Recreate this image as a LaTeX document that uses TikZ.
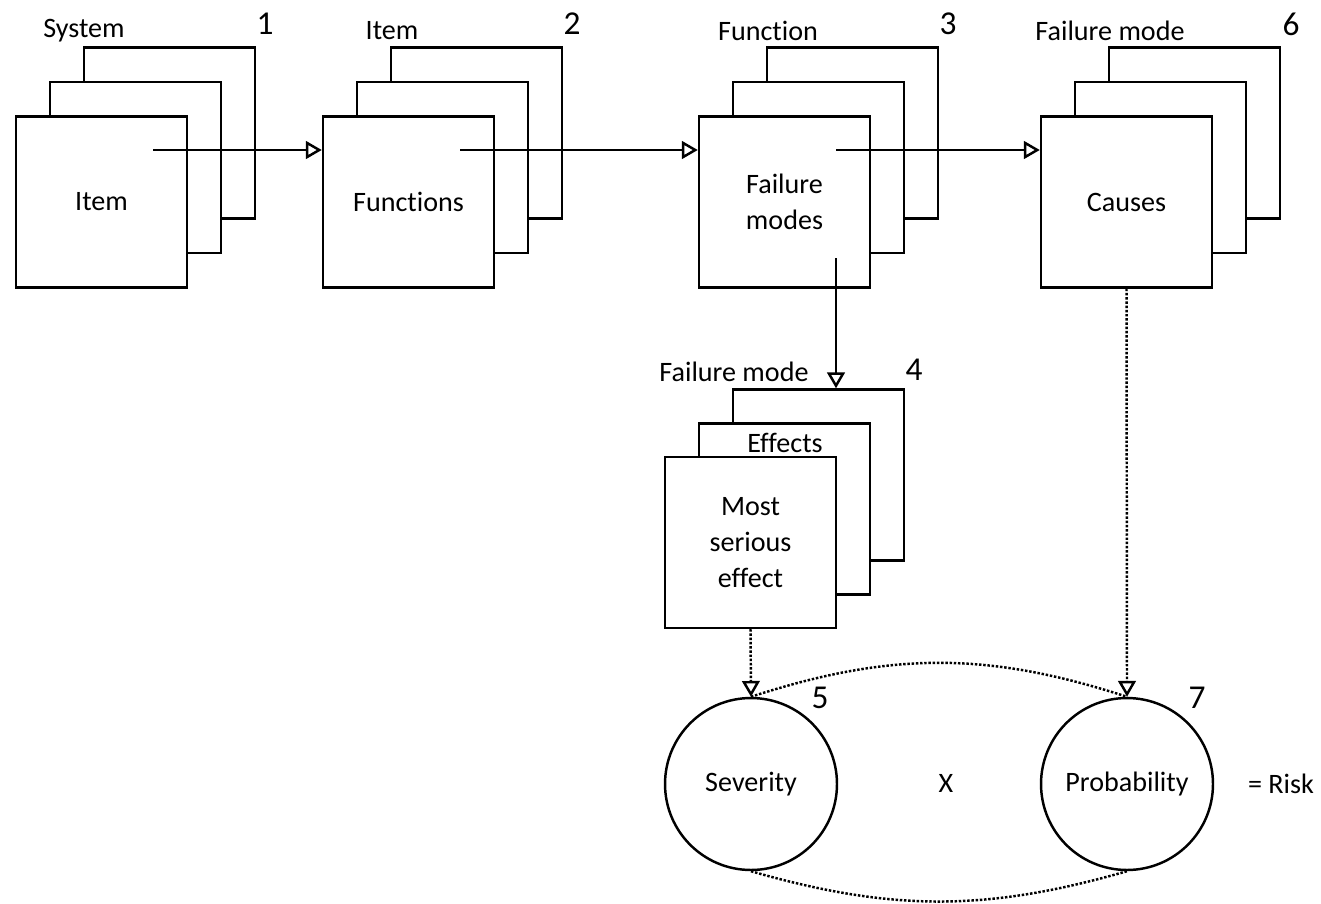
\documentclass[tikz,border=0pt]{standalone}
\usepackage{fontspec}
\setmainfont{Carlito}[Ligatures=NoCommon]
\usetikzlibrary{arrows.meta}

\begin{document}
\begin{tikzpicture}[x=0.02cm, y=-0.02cm]
\useasboundingbox (0, 0) rectangle (1321, 903);

\coordinate (G1_1) at (101.5, 202);
\coordinate (G1_2) at (135.5, 167.5);
\coordinate (G1_3) at (169.5, 133);
\coordinate (G2_1) at (408.5, 202);
\coordinate (G2_2) at (442.5, 167.5);
\coordinate (G2_3) at (476.5, 133);
\coordinate (G3_1) at (784.5, 202);
\coordinate (G3_2) at (818.5, 167.5);
\coordinate (G3_3) at (852.5, 133);
\coordinate (G4_1) at (750.5, 542.5);
\coordinate (G4_2) at (784.5, 509);
\coordinate (G4_3) at (818.5, 475);
\coordinate (G6_1) at (1126.5, 202);
\coordinate (G6_2) at (1160.5, 167.5);
\coordinate (G6_3) at (1194.5, 133);

\coordinate (A1) at (153, 150);
\coordinate (A2) at (460, 150);
\coordinate (A3) at (836, 150);
\coordinate (A4) at (836, 258);


\tikzset{BoxStyle/.style = {
 draw,
 fill = white,
 line width = 1.4pt,
 minimum size = 3.42cm,
 inner sep = 0pt,
 align = center,
 font = \fontsize{16}{20.4}\selectfont} }
\tikzset{LabelStyle/.style = {inner sep = 0pt, font = \fontsize{16}{20.4}\selectfont} }
\tikzset{NumStyle/.style = {inner sep = 0pt, font = \fontsize{19}{22}\selectfont} }

\node[BoxStyle] (B1_3) at (G1_3) {};
\node[BoxStyle] (B1_2) at (G1_2) {};
\node[BoxStyle] (B1_1) at (G1_1) {Item};
\node[BoxStyle] (B2_3) at (G2_3) {};
\node[BoxStyle] (B2_2) at (G2_2) {};
\node[BoxStyle] (B2_1) at (G2_1) {Functions};
\node[BoxStyle] (B3_3) at (G3_3) {};
\node[BoxStyle] (B3_2) at (G3_2) {};
\node[BoxStyle] (B3_1) at (G3_1) {Failure\\modes};
\node[BoxStyle] (B4_3) at (G4_3) {};
\node[BoxStyle] (B4_2) at (G4_2) {};
\node[LabelStyle] (E4) at (785, 443) {Effects};
\node[BoxStyle] (B4_1) at (G4_1) {Most\\serious\\effect};
\node[BoxStyle] (B6_3) at (G6_3) {};
\node[BoxStyle] (B6_2) at (G6_2) {};
\node[BoxStyle] (B6_1) at (G6_1) {Causes};

\node[LabelStyle] (L1) at (84, 31) {System};
\node[LabelStyle] (L2) at (392, 31) {Item};
\node[LabelStyle] (L3) at (768, 31) {Function};
\node[LabelStyle] (L4) at (734, 372) {Failure mode};
\node[LabelStyle] (L6) at (1110, 31) {Failure mode};

\node[NumStyle] (N1) at (265, 24) {1};
\node[NumStyle] (N2) at (572, 24) {2};
\node[NumStyle] (N3) at (948, 24) {3};
\node[NumStyle] (N4) at (914, 370) {4};
\node[NumStyle] (N5) at (820, 698) {5};
\node[NumStyle] (N6) at (1291, 24) {6};
\node[NumStyle] (N7) at (1197, 698) {7};


\tikzset{CircleStyle/.style = {
 draw,
 circle,
 line width = 1.4pt,
 minimum size = 3.44cm,
 inner sep = 0pt,
 font = \fontsize{16}{20.4}\selectfont} }

\node[CircleStyle] (Sev) at (751, 784) {Severity};
\node[CircleStyle] (Prob) at (1127, 784) {Probability};
\node[LabelStyle] (Times) at (946, 783) {X};
\node[LabelStyle] (Risk) at (1281, 784) {= Risk};


\tikzset{ArrowStyle/.style = {line width = 1.4pt, -{Triangle[open, length=9pt, width=10pt]}} }
\tikzset{DotStyle/.style = {line width = 1.4pt, densely dotted} }

\draw[ArrowStyle] (A1) -- (A1 -| B2_1.west);
\draw[ArrowStyle] (A2) -- (A2 -| B3_1.west);
\draw[ArrowStyle] (A3) -- (A3 -| B6_1.west);
\draw[ArrowStyle] (A4) -- (A4 |- B4_3.north);
\draw[ArrowStyle, DotStyle] (B4_1.south) -- (Sev.north);
\draw[ArrowStyle, DotStyle] (B6_1.south) -- (Prob.north);
\draw[DotStyle] (Sev.north) to[bend left=18] (Prob.north);
\draw[DotStyle] (Sev.south) to[bend right=16] (Prob.south);

\end{tikzpicture}
\end{document}
